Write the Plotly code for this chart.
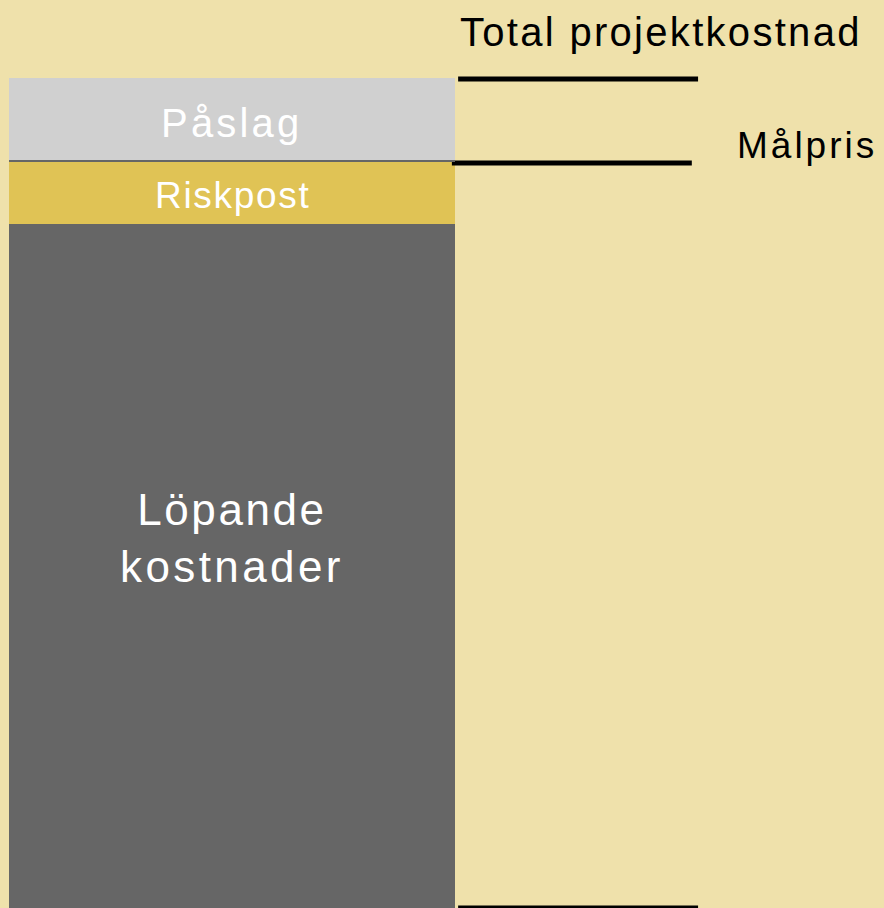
import plotly.graph_objects as go

# ---- data (arbitrary cost units) ----
segments = ["Löpande kostnader", "Riskpost", "Påslag"]
segment_values = [684, 62, 84]
segment_colors = ["#666666", "#E0C355", "#D0D0D0"]

lopande = segment_values[0]
riskpost = segment_values[1]
paslag = segment_values[2]
malpris = lopande + riskpost
total = lopande + riskpost + paslag

# ---- layout constants ----
W, H = 884, 908
BG = "#EFE1AB"
FONT = "Liberation Sans, Arial, sans-serif"
X_RANGE = [-0.5202, 1.4619]
Y_RANGE = [0, 908]
TOTAL_LINE_X = [0.507, 1.045]
MALPRIS_LINE_X = [0.493, 1.031]

fig = go.Figure()

for name, val, col in zip(segments, segment_values, segment_colors):
    fig.add_trace(go.Bar(
        x=[0], y=[val], width=[1], name=name,
        marker=dict(color=col, line=dict(width=0)),
        hoverinfo="skip", showlegend=False,
    ))

# divider between Riskpost and Påslag
fig.add_shape(type="rect", xref="x", yref="y", x0=-0.5, x1=0.5,
              y0=malpris, y1=malpris + 2, fillcolor="#666666", line=dict(width=0))

# reference lines
for xs, yv in [(TOTAL_LINE_X, total - 1), (MALPRIS_LINE_X, malpris - 1), (TOTAL_LINE_X, 0)]:
    fig.add_trace(go.Scatter(
        x=xs, y=[yv, yv], mode="lines",
        line=dict(color="#000000", width=5),
        hoverinfo="skip", showlegend=False,
    ))


def spaced(t, ls):
    return f'<span style="letter-spacing:{ls}px">{t}</span>'


annotations = [
    dict(x=TOTAL_LINE_X[0], y=total, xanchor="left", yanchor="middle", yshift=46,
         text=spaced("Total projektkostnad", 2.3), font=dict(size=40, color="#000000")),
    dict(x=1.128, y=malpris, xanchor="left", yanchor="middle", yshift=17,
         text=spaced("Målpris", 3), font=dict(size=37, color="#000000")),
    dict(x=0, y=malpris + paslag / 2, xanchor="center", yanchor="middle", yshift=-3,
         text=spaced("Påslag", 3.2), font=dict(size=40, color="#FFFFFF")),
    dict(x=0, y=lopande + riskpost / 2, xanchor="center", yanchor="middle", yshift=-2,
         text=spaced("Riskpost", 1.7), font=dict(size=37, color="#FFFFFF")),
    dict(x=0, y=lopande / 2, xanchor="center", yanchor="middle", yshift=28,
         text=spaced("Löpande", 2.6) + "<br>" + spaced("kostnader", 3.4),
         font=dict(size=44, color="#FFFFFF")),
]
for a in annotations:
    a.update(xref="x", yref="y", showarrow=False, font_family=FONT)

fig.update_layout(
    width=W, height=H,
    margin=dict(l=0, r=0, t=0, b=0),
    paper_bgcolor=BG, plot_bgcolor=BG,
    barmode="stack", bargap=0,
    xaxis=dict(range=X_RANGE, visible=False, fixedrange=True),
    yaxis=dict(range=Y_RANGE, visible=False, fixedrange=True),
    annotations=annotations,
    font=dict(family=FONT),
)

fig.write_html(
    "out.html",
    config={"displayModeBar": False},
    post_script="document.body.style.margin='0';document.body.style.overflow='hidden';",
)
